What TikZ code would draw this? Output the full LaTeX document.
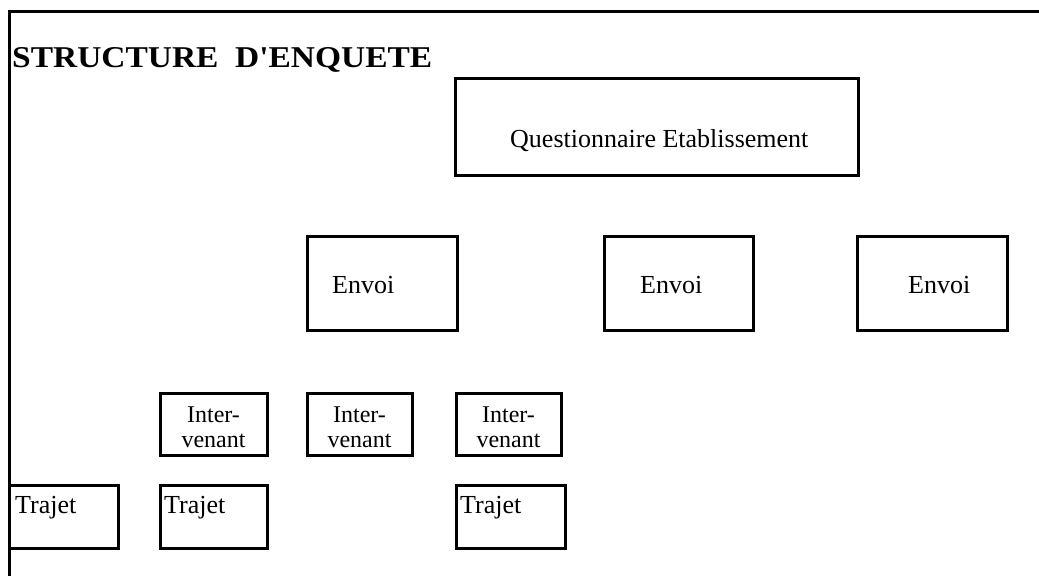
\documentclass[tikz,border=0pt]{standalone}
\usepackage{fontspec}
\setmainfont{Liberation Serif}
\newfontfamily\titlefont{Liberation Serif}
\begin{document}
\begin{tikzpicture}[x=1pt,y=-1pt,
  box/.style={draw, line width=3pt, inner sep=0pt, outer sep=0pt},
  frameline/.style={line width=3pt},
  txt/.style={inner sep=0pt, font=\fontsize{26}{26}\selectfont},
  smalltxt/.style={inner sep=0pt, font=\fontsize{24}{24}\selectfont},
  titletxt/.style={inner sep=0pt, font=\titlefont\bfseries\fontsize{30}{30}\selectfont}]
\useasboundingbox (0,0) rectangle (1039,576);
% outer frame
\coordinate (ftl) at (9.5,11.5);
\coordinate (ftr) at (1039,11.5);
\coordinate (fbl) at (9.5,576);
\draw[frameline] (ftr) -- (ftl) -- (fbl);
% title
\node[titletxt, anchor=base west] (title) at (12,67) {\resizebox{420pt}{20pt}{STRUCTURE\ \ D\textquotesingle ENQUETE}};
% questionnaire
\node[box, minimum width=403pt, minimum height=97pt] (q) at (656.5,126.5) {};
\node[txt, anchor=base west] (qt) at (510,147) {Questionnaire Etablissement};
% envois
\node[box, minimum width=150pt, minimum height=94pt] (e1) at (382,283) {};
\node[box, minimum width=149pt, minimum height=94pt] (e2) at (678.5,283) {};
\node[box, minimum width=150pt, minimum height=94pt] (e3) at (932,283) {};
\node[txt, anchor=base west] (e1t) at (332,293) {Envoi};
\node[txt, anchor=base west] (e2t) at (640,293) {Envoi};
\node[txt, anchor=base west] (e3t) at (908,293) {Envoi};
% intervenants
\node[box, minimum width=107pt, minimum height=62pt] (i1) at (213.5,424) {};
\node[box, minimum width=105pt, minimum height=62pt] (i2) at (359.5,424) {};
\node[box, minimum width=105pt, minimum height=62pt] (i3) at (508.5,424) {};
\foreach \n/\x in {i1/213.5, i2/359.5, i3/508.5}{
  \node[smalltxt, anchor=base] (\n a) at (\x,422) {Inter-};
  \node[smalltxt, anchor=base] (\n b) at (\x,447) {venant};
}
% trajets
\node[box, minimum width=108.5pt, minimum height=63pt] (t1) at (63.75,516.5) {};
\node[box, minimum width=107pt, minimum height=63pt] (t2) at (213.5,516.5) {};
\node[box, minimum width=109pt, minimum height=63pt] (t3) at (510.5,516.5) {};
\node[txt, anchor=base west] (t1t) at (15,513) {Trajet};
\node[txt, anchor=base west] (t2t) at (164,513) {Trajet};
\node[txt, anchor=base west] (t3t) at (460,513) {Trajet};
\end{tikzpicture}
\end{document}
